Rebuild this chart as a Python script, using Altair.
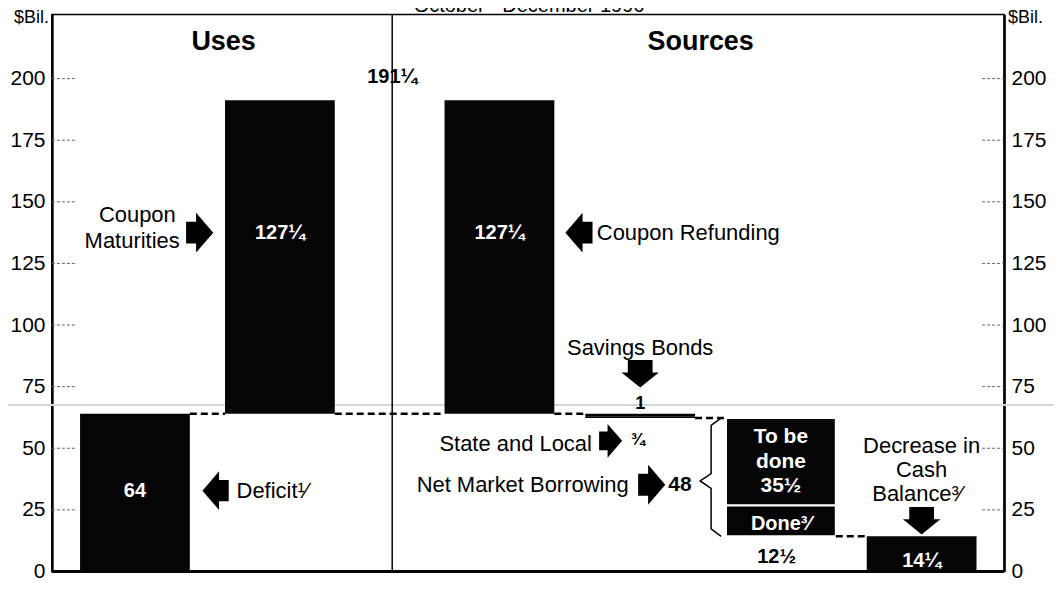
import altair as alt
import pandas as pd

# ---------------- data ----------------
categories = ["Deficit", "Coupon Maturities", "Coupon Refunding", "Savings Bonds",
              "State and Local", "To be done", "Done", "Decrease in Cash Balance"]
sides = ["Uses", "Uses", "Sources", "Sources", "Sources", "Sources", "Sources", "Sources"]
amounts = [64, 127.25, 127.25, 1, 0.75, 35.5, 12.5, 14.25]
net_market_borrowing = 48
y_ticks = [0, 25, 50, 75, 100, 125, 150, 175, 200]
title_text = "October - December 1996"
unit_text = "$Bil."

# ---------------- layout (x in "slot" units, 1 slot = 141 px) ----------------
FONT = "Liberation Sans"
slot = [0.59, 1.62, 3.18, 4.18, 4.18, 5.18, 5.18, 6.18]
HALF = 0.39
X_MAX = 954 / 141
Y_MAX = 226
DIVIDER = 2.418
W, H = 954, 558
TXT = 22


def frac(v):
    whole = int(v)
    rest = round(v - whole, 2)
    tail = {0.0: "", 0.25: "¼", 0.5: "½", 0.75: "¾"}[rest]
    return (str(whole) if whole else "") + tail


# waterfall levels
n = len(amounts)
lows, highs = [0.0] * n, [0.0] * n
up = 0.0
for i in range(n):
    if sides[i] == "Uses":
        lows[i], highs[i] = up, up + amounts[i]
        up += amounts[i]
total = up
down = total
for i in range(n):
    if sides[i] == "Sources":
        highs[i], lows[i] = down, down - amounts[i]
        down -= amounts[i]

df_bars = pd.DataFrame({
    "cat": categories,
    "x": [s - HALF for s in slot],
    "x2": [s + HALF for s in slot],
    "y": lows,
    "y2": highs,
    "stroke": ["white" if c in ("To be done", "Done") else "black" for c in categories],
    "sw": [2 if c in ("To be done", "Done") else 0 for c in categories],
})

# connectors between consecutive bars
pairs = [(0, 1), (1, 2), (2, 3), (4, 5), (6, 7)]
conn = []
for a, b in pairs:
    common = set([round(lows[a], 3), round(highs[a], 3)]) & set([round(lows[b], 3), round(highs[b], 3)])
    lvl = list(common)[0]
    conn.append({"x": slot[a] + HALF, "x2": slot[b] - HALF, "y": lvl})
df_conn = pd.DataFrame(conn)

xs = alt.Scale(domain=[0, X_MAX], nice=False, zero=False)
ys = alt.Scale(domain=[0, Y_MAX], nice=False, zero=True)

left_axis = alt.Axis(values=y_ticks, orient="left", tickSize=0, labelFontSize=21, labelFont=FONT,
                     labelColor="black", domainColor="black", domainWidth=2.5, labelPadding=7,
                     grid=False, title=None)
right_axis = alt.Axis(values=y_ticks, orient="right", tickSize=0, labelFontSize=21, labelFont=FONT,
                      labelColor="black", domainColor="black", domainWidth=2.5, labelPadding=7,
                      grid=False, title=None)

X = lambda f="x": alt.X(f + ":Q", scale=xs, axis=None)
Y = lambda f="y": alt.Y(f + ":Q", scale=ys, axis=None)

bars = alt.Chart(df_bars).mark_bar(color="#050505").encode(
    x=X(), x2="x2:Q",
    y=alt.Y("y:Q", scale=ys, axis=left_axis), y2="y2:Q",
    stroke=alt.Stroke("stroke:N", scale=None),
    strokeWidth=alt.StrokeWidth("sw:Q", scale=None),
)

df_ticks = pd.DataFrame({"y": y_ticks})
ticks_left = alt.Chart(df_ticks).mark_rule(color="#666", strokeWidth=1, strokeDash=[3, 2]).encode(
    x=alt.value(0), x2=alt.value(24), y=Y())
ticks_right = alt.Chart(df_ticks).mark_rule(color="#666", strokeWidth=1, strokeDash=[3, 2]).encode(
    x=alt.value(W - 22), x2=alt.value(W), y=alt.Y("y:Q", scale=ys, axis=right_axis))

connectors = alt.Chart(df_conn).mark_rule(color="black", strokeWidth=2.5, strokeDash=[7, 4]).encode(
    x=X(), x2="x2:Q", y=Y())

# frame pieces
df_div = pd.DataFrame({"x": [DIVIDER], "y": [0], "y2": [Y_MAX]})
divider = alt.Chart(df_div).mark_rule(color="black", strokeWidth=1.5).encode(x=X(), y=Y(), y2="y2:Q")
df_base = pd.DataFrame({"y": [0]})
baseline = alt.Chart(df_base).mark_rule(color="black", strokeWidth=3).encode(
    x=alt.value(0), x2=alt.value(W), y=Y())
df_fold = pd.DataFrame({"y": [67.6]})
fold = alt.Chart(df_fold).mark_rule(color="#d6d6d6", strokeWidth=2).encode(
    x=alt.value(-44), x2=alt.value(W + 50), y=Y())

# brace beside Net Market Borrowing
nmb_left = slot[5] - HALF
b_top, b_bot = highs[5], lows[6]
b_mid = (b_top + b_bot) / 2 - 1.5
brace_pts = [
    (nmb_left - 0.035, b_top), (nmb_left - 0.106, b_top - 3), (nmb_left - 0.106, b_mid + 3),
    (nmb_left - 0.184, b_mid), (nmb_left - 0.106, b_mid - 3), (nmb_left - 0.106, b_bot + 3),
    (nmb_left - 0.035, b_bot),
]
df_brace = pd.DataFrame({"x": [p[0] for p in brace_pts], "y": [p[1] for p in brace_pts],
                         "o": list(range(len(brace_pts)))})
brace = alt.Chart(df_brace).mark_line(color="black", strokeWidth=1.5).encode(
    x=X(), y=Y(), order="o:Q")

# arrows
H_ARROW = "M-0.68,-0.55L-0.18,-0.55L-0.18,-1L0.68,0L-0.18,1L-0.18,0.55L-0.68,0.55Z"
D_ARROW = "M-0.9,-1L0.9,-1L0.9,-0.1L1.36,-0.1L0,1L-1.36,-0.1L-0.9,-0.1Z"
df_harrow = pd.DataFrame({
    "x": [1.05, 3.745, 1.163, 3.97, 4.262],
    "y": [137.5, 137.5, 32.8, 53.0, 35.2],
    "a": [0, 180, 180, 0, 0],
    "s": [1600, 1600, 1500, 1150, 1600],
})
harrows = alt.Chart(df_harrow).mark_point(shape=H_ARROW, filled=True, color="black", opacity=1,
                                         strokeWidth=0).encode(
    x=X(), y=Y(), angle=alt.Angle("a:Q", scale=None), size=alt.Size("s:Q", scale=None))
df_darrow = pd.DataFrame({"x": [slot[3], slot[7]], "y": [80.2, 20.6]})
darrows = alt.Chart(df_darrow).mark_point(shape=D_ARROW, filled=True, color="black", opacity=1,
                                         strokeWidth=0, size=760).encode(x=X(), y=Y())


def text_layer(rows, align="center", bold=False, color="black", baseline="middle"):
    df = pd.DataFrame(rows, columns=["text", "x", "y", "size"])
    return alt.Chart(df).mark_text(align=align, baseline=baseline, font=FONT,
                                   fontWeight="bold" if bold else "normal", color=color).encode(
        x=X(), y=Y(), text="text:N", size=alt.Size("size:Q", scale=None))


normal_right = text_layer([
    ["Coupon", 0.88, 144.5, TXT],
    ["Maturities", 0.908, 134.0, TXT],
    ["State and Local", 3.837, 51.8, TXT],
    ["Net Market Borrowing", 4.099, 35.2, TXT],
], align="right")
normal_left = text_layer([
    ["Coupon Refunding", 3.872, 137.5, TXT],
    ["Deficit¹⁄", 1.312, 32.8, TXT],
], align="left")
normal_center = text_layer([
    [categories[3], slot[3], 90.5, TXT],
    ["Decrease in", slot[7], 50.8, TXT],
    ["Cash", slot[7], 41.2, TXT],
    ["Balance³⁄", slot[7] - 0.03, 31.6, TXT],
], align="center")
bold_center = text_layer([
    [frac(total), DIVIDER, 200.8, 20],
    [frac(amounts[3]), slot[3], 68.0, 18],
    [frac(amounts[6]), slot[6] - 0.03, 5.8, 20],
    ["Uses", 1.22, 215.0, 27],
    ["Sources", 4.61, 215.0, 27],
], align="center", bold=True)
bold_left = text_layer([
    [frac(amounts[4]), 4.113, 53.5, 17],
    [str(net_market_borrowing), 4.38, 35.2, 21],
], align="left", bold=True)
white_center = text_layer([
    [frac(amounts[0]), slot[0], 32.8, 20],
    [frac(amounts[1]), slot[1], 137.5, 20],
    [frac(amounts[2]), slot[2], 137.5, 20],
    ["To be", slot[5], 54.5, 21],
    ["done", slot[5], 44.3, 21],
    [frac(amounts[5]), slot[5], 34.8, 21],
    ["Done³⁄", slot[6], 19.4, 20],
    [frac(amounts[7]), slot[7], 4.2, 20],
], align="center", bold=True, color="white")

df_unit = pd.DataFrame({"t": [unit_text], "y": [Y_MAX]})
unit_left = alt.Chart(df_unit).mark_text(align="right", baseline="middle", font=FONT, fontSize=18,
                                        color="black", dy=3).encode(x=alt.value(-3), y=Y(), text="t:N")
unit_right = alt.Chart(df_unit).mark_text(align="left", baseline="middle", font=FONT, fontSize=18,
                                         color="black", dy=3).encode(x=alt.value(W + 4), y=Y(), text="t:N")
df_title = pd.DataFrame({"t": [title_text]})
title = alt.Chart(df_title).mark_text(align="center", baseline="alphabetic", font=FONT, fontSize=20,
                                     color="black").encode(x=alt.value(478), y=alt.value(-3), text="t:N")

chart = alt.layer(
    fold, bars, ticks_left, ticks_right, connectors, divider, baseline, brace,
    harrows, darrows, normal_right, normal_left, normal_center, bold_center, bold_left,
    white_center, unit_left, unit_right, title,
).resolve_axis(y="independent").properties(
    width=W, height=H,
    autosize=alt.AutoSizeParams(type="none"),
    padding={"left": 44, "top": 6, "right": 50, "bottom": 14},
).configure_view(stroke="black", strokeWidth=1.5)

chart.save("out.html", embed_options={"renderer": "svg", "actions": False})
